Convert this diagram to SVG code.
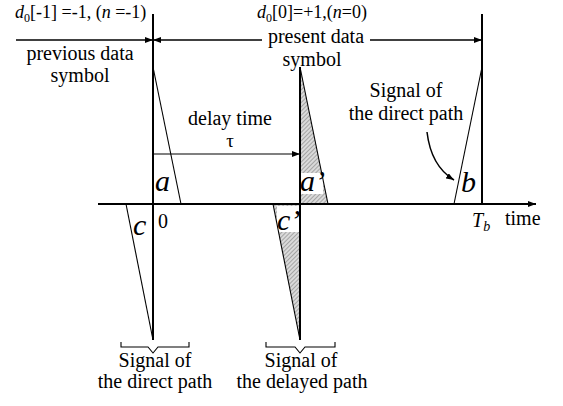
<svg xmlns="http://www.w3.org/2000/svg" width="563" height="406" viewBox="0 0 563 406" font-family="'Liberation Serif', 'Times New Roman', 'DejaVu Serif', serif">
<style>
text{font-family:'Liberation Serif','Times New Roman','DejaVu Serif',serif;fill:#000}
.t{font-size:20px}
.c{text-anchor:middle}
.it{font-style:italic}
.lbl{font-size:30px;font-style:italic}
.thick{stroke:#000;stroke-width:2;fill:none}
.thin{stroke:#000;stroke-width:1.1;fill:none}
.arr{stroke:#000;stroke-width:1.5;fill:none}
</style>
<defs>
<pattern id="hatch" width="3" height="3" patternUnits="userSpaceOnUse" patternTransform="rotate(45)">
<rect width="3" height="3" fill="#dadada"/>
<line x1="0" y1="0" x2="0" y2="3" stroke="#808080" stroke-width="1.2"/>
</pattern>
<marker id="ah" markerWidth="8" markerHeight="6" refX="8" refY="3" orient="auto" markerUnits="userSpaceOnUse">
<path d="M0,0 L8,3 L0,6 z" fill="#000"/>
</marker>
</defs>

<g id="shading">
<polygon points="300,67 300,204 328,204" fill="url(#hatch)"/>
<polygon points="300,340 300,204 273,204" fill="url(#hatch)"/>
<rect x="301" y="173" width="22" height="21" fill="#fff"/>
<rect x="277" y="206" width="22" height="26" fill="#fff"/>
</g>

<g id="axis">
<line x1="98" y1="204" x2="536" y2="204" class="thick" marker-end="url(#ah)"/>
<text x="505" y="225" class="t">time</text>
<text x="472" y="227" class="t it">T<tspan font-size="14" dy="4">b</tspan></text>
</g>

<g id="symbol-boundary-0">
<line x1="153" y1="14" x2="153" y2="340" class="thick"/>
<text x="158" y="228" class="t">0</text>
</g>

<g id="symbol-boundary-Tb">
<line x1="482" y1="14" x2="482" y2="204" class="thick"/>
</g>

<g id="delayed-boundary">
<line x1="300" y1="67" x2="300" y2="340" class="thick"/>
</g>

<g id="pulse-a">
<line x1="153" y1="67" x2="181" y2="204" class="thin"/>
<text x="155" y="191" class="lbl">a</text>
</g>
<g id="pulse-c">
<line x1="126" y1="204" x2="153" y2="340" class="thin"/>
<text x="133" y="235" class="lbl">c</text>
</g>
<g id="pulse-a-prime">
<line x1="300" y1="67" x2="328" y2="204" class="thin"/>
<text x="300" y="191" class="lbl">a’</text>
</g>
<g id="pulse-c-prime">
<line x1="273" y1="204" x2="300" y2="340" class="thin"/>
<text x="277" y="230" class="lbl">c’</text>
</g>
<g id="pulse-b">
<line x1="482" y1="67" x2="454" y2="204" class="thin"/>
<text x="461" y="192" class="lbl">b</text>
</g>

<g id="connectors">
<line x1="16" y1="40" x2="153" y2="40" class="arr" marker-end="url(#ah)"/>
<line x1="262" y1="40" x2="153" y2="40" class="arr" marker-end="url(#ah)"/>
<line x1="370" y1="40" x2="482" y2="40" class="arr" marker-end="url(#ah)"/>
<line x1="153" y1="154" x2="300" y2="154" class="thin" marker-end="url(#ah)"/>
<path d="M427,132 Q431,166 454,180" class="arr" marker-end="url(#ah)"/>
<path d="M121,342 V347 H148 L153,353 L158,347 H189 V342" class="thin"/>
<path d="M266,342 V347 H295 L300,353 L305,347 H335 V342" class="thin"/>
</g>

<g id="label-prev">
<text x="15" y="18" font-size="18"><tspan class="it">d</tspan><tspan font-size="12" dy="4">0</tspan><tspan dy="-4">[-1] =-1, (</tspan><tspan class="it">n</tspan> =-1)</text>
<text x="80" y="60" class="t c">previous data</text>
<text x="80" y="82" class="t c">symbol</text>
</g>

<g id="label-present">
<text x="257" y="18" font-size="18"><tspan class="it">d</tspan><tspan font-size="12" dy="4">0</tspan><tspan dy="-4">[0]=+1,(</tspan><tspan class="it">n</tspan>=0)</text>
<text x="316" y="43" class="t c">present data</text>
<text x="312" y="66" class="t c">symbol</text>
</g>

<g id="label-delay">
<text x="230" y="125" class="t c">delay time</text>
<text x="230" y="147" class="c" font-size="19">τ</text>
</g>

<g id="label-direct-right">
<text x="406" y="97" class="t c">Signal of</text>
<text x="406" y="120" class="t c">the direct path</text>
</g>

<g id="label-direct-bottom">
<text x="155" y="367" class="t c">Signal of</text>
<text x="155" y="388" class="t c">the direct path</text>
</g>

<g id="label-delayed-bottom">
<text x="301" y="367" class="t c">Signal of</text>
<text x="302" y="388" class="t c">the delayed path</text>
</g>
</svg>
